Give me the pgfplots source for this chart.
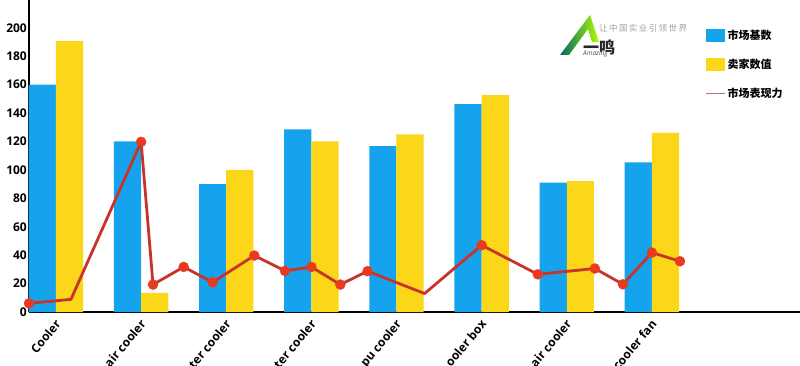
\documentclass[border=0pt]{standalone}
\usepackage{fontspec}
\setmainfont{Open Sans}
\newfontfamily\cjk{Noto Sans CJK SC}
\usepackage{pgfplots}
\pgfplotsset{compat=1.18}
\definecolor{cblue}{RGB}{22,163,238}
\definecolor{cyellow}{RGB}{252,214,24}
\definecolor{cline}{RGB}{200,52,40}
\definecolor{cmark}{RGB}{232,58,30}
\definecolor{cleg}{RGB}{190,110,100}
\begin{document}
\begin{tikzpicture}[x=1pt,y=1pt]
\clip (0,0) rectangle (800,365);
\begin{axis}[
  at={(29pt,53pt)}, anchor=south west,
  scale only axis, width=771pt, height=312pt,
  xmin=-0.317, xmax=8.74, ymin=0, ymax=219.5,
  axis x line=bottom, axis y line=left,
  axis line style={-, line width=1.6pt, black},
  xtick={0,...,7},
  xticklabels={Cooler, air cooler, ter cooler, ter cooler, pu cooler, ooler box, air cooler, cooler fan},
  ytick={0,20,...,200},
  major tick length=0pt,
  /pgf/number format/assume math mode=true,
  tick label style={font=\bfseries\fontsize{12}{14}\selectfont},
  xticklabel style={rotate=50, anchor=north east, inner sep=1pt, xshift=-5pt, yshift=-2pt},
  yticklabel style={inner sep=2pt},
  legend style={at={(0.877,0.912)}, anchor=north west, draw=none, fill=none,
    font=\cjk\bfseries\fontsize{11}{12}\selectfont, row sep=14pt, inner sep=0pt,
    nodes={inner sep=2pt}},
  legend cell align=left,
  clip=false,
]
\addplot[ybar, bar width=0.32, bar shift=-0.16, fill=cblue, draw=none,
  legend image code/.code={\fill[cblue] (0pt,-6.5pt) rectangle (19pt,6.5pt);}]
  coordinates {(0,160) (1,120) (2,90) (3,128.5) (4,116.7) (5,146.3) (6,91) (7,105.2)};
\addlegendentry{市场基数}
\addplot[ybar, bar width=0.32, bar shift=0.16, fill=cyellow, draw=none,
  legend image code/.code={\fill[cyellow] (0pt,-6.5pt) rectangle (19pt,6.5pt);}]
  coordinates {(0,190.5) (1,13.4) (2,100) (3,120) (4,125) (5,152.6) (6,92) (7,126)};
\addlegendentry{卖家数值}
\addplot[cline, line width=2.8pt, line join=round, mark=none,
  legend image code/.code={\draw[cleg, line width=1.2pt] (0pt,0pt) -- (19pt,0pt);}]
  coordinates {(-0.317,6.1) (0.176,8.9) (1.0,119.7) (1.14,19.3) (1.5,31.7) (1.84,20.9)
  (2.33,39.7) (2.69,28.9) (3.0,31.7) (3.34,19.3) (3.66,28.7) (4.33,13) (5.0,47)
  (5.66,26.5) (6.33,30.6) (6.66,19.5) (7.0,41.8) (7.33,35.7)};
\addlegendentry{市场表现力}
\addplot[only marks, color=cmark, mark=*, mark size=5pt, mark options={fill=cmark, draw=cmark}, forget plot]
  coordinates {(-0.317,6.1) (1.0,119.7) (1.14,19.3) (1.5,31.7) (1.84,20.9)
  (2.33,39.7) (2.69,28.9) (3.0,31.7) (3.34,19.3) (3.66,28.7) (5.0,47)
  (5.66,26.5) (6.33,30.6) (6.66,19.5) (7.0,41.8) (7.33,35.7)};
\end{axis}
% logo watermark
\shade[left color=teal!80!black, right color=yellow!70!green]
  (560,310) -- (590,350) -- (599,323) -- (592,323) -- (588,336) -- (569,310) -- cycle;
\node[anchor=west, inner sep=0pt, text=gray!75] at (599,337)
  {\cjk\fontsize{8.5}{9}\selectfont 让\,中\,国\,实\,业\,引\,领\,世\,界};
\node[anchor=west, inner sep=0pt, text=black!85] at (583,318)
  {\cjk\bfseries\fontsize{16}{16}\selectfont 一鸣};
\node[anchor=west, inner sep=0pt, text=black!70] at (583,311)
  {\itshape\fontsize{6.5}{6.5}\selectfont Amazing};
\end{tikzpicture}
\end{document}
